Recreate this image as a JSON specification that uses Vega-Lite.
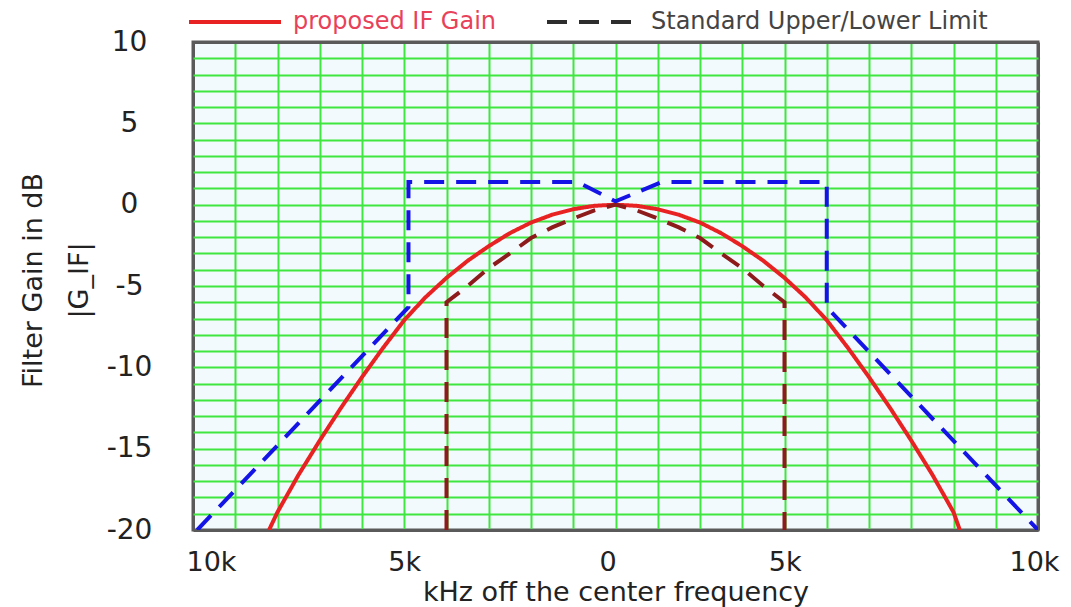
{
  "$schema": "https://vega.github.io/schema/vega-lite/v6.json",
  "width": 845,
  "height": 488,
  "autosize": {"type": "none"},
  "padding": {"left": 193, "top": 42, "right": 33, "bottom": 77},
  "background": "#ffffff",
  "config": {
    "view": {"fill": "#f3fafd", "stroke": "#5a5a5a", "strokeWidth": 3},
    "font": "DejaVu Sans"
  },
  "data": {
    "values": [
      {"series": "proposed", "group": "proposed IF Gain", "i": 0, "khz": -8.2, "db": -20},
      {"series": "proposed", "group": "proposed IF Gain", "i": 1, "khz": -8, "db": -18.9},
      {"series": "proposed", "group": "proposed IF Gain", "i": 2, "khz": -7.5, "db": -16.6},
      {"series": "proposed", "group": "proposed IF Gain", "i": 3, "khz": -7, "db": -14.5},
      {"series": "proposed", "group": "proposed IF Gain", "i": 4, "khz": -6.5, "db": -12.5},
      {"series": "proposed", "group": "proposed IF Gain", "i": 5, "khz": -6, "db": -10.6},
      {"series": "proposed", "group": "proposed IF Gain", "i": 6, "khz": -5.5, "db": -8.8},
      {"series": "proposed", "group": "proposed IF Gain", "i": 7, "khz": -5, "db": -7.1},
      {"series": "proposed", "group": "proposed IF Gain", "i": 8, "khz": -4.5, "db": -5.7},
      {"series": "proposed", "group": "proposed IF Gain", "i": 9, "khz": -4, "db": -4.5},
      {"series": "proposed", "group": "proposed IF Gain", "i": 10, "khz": -3.5, "db": -3.45},
      {"series": "proposed", "group": "proposed IF Gain", "i": 11, "khz": -3, "db": -2.55},
      {"series": "proposed", "group": "proposed IF Gain", "i": 12, "khz": -2.5, "db": -1.75},
      {"series": "proposed", "group": "proposed IF Gain", "i": 13, "khz": -2, "db": -1.1},
      {"series": "proposed", "group": "proposed IF Gain", "i": 14, "khz": -1.5, "db": -0.62},
      {"series": "proposed", "group": "proposed IF Gain", "i": 15, "khz": -1, "db": -0.28},
      {"series": "proposed", "group": "proposed IF Gain", "i": 16, "khz": -0.5, "db": -0.07},
      {"series": "proposed", "group": "proposed IF Gain", "i": 17, "khz": 0, "db": 0},
      {"series": "proposed", "group": "proposed IF Gain", "i": 18, "khz": 0.5, "db": -0.07},
      {"series": "proposed", "group": "proposed IF Gain", "i": 19, "khz": 1, "db": -0.28},
      {"series": "proposed", "group": "proposed IF Gain", "i": 20, "khz": 1.5, "db": -0.62},
      {"series": "proposed", "group": "proposed IF Gain", "i": 21, "khz": 2, "db": -1.1},
      {"series": "proposed", "group": "proposed IF Gain", "i": 22, "khz": 2.5, "db": -1.75},
      {"series": "proposed", "group": "proposed IF Gain", "i": 23, "khz": 3, "db": -2.55},
      {"series": "proposed", "group": "proposed IF Gain", "i": 24, "khz": 3.5, "db": -3.45},
      {"series": "proposed", "group": "proposed IF Gain", "i": 25, "khz": 4, "db": -4.5},
      {"series": "proposed", "group": "proposed IF Gain", "i": 26, "khz": 4.5, "db": -5.7},
      {"series": "proposed", "group": "proposed IF Gain", "i": 27, "khz": 5, "db": -7.1},
      {"series": "proposed", "group": "proposed IF Gain", "i": 28, "khz": 5.5, "db": -8.8},
      {"series": "proposed", "group": "proposed IF Gain", "i": 29, "khz": 6, "db": -10.6},
      {"series": "proposed", "group": "proposed IF Gain", "i": 30, "khz": 6.5, "db": -12.5},
      {"series": "proposed", "group": "proposed IF Gain", "i": 31, "khz": 7, "db": -14.5},
      {"series": "proposed", "group": "proposed IF Gain", "i": 32, "khz": 7.5, "db": -16.6},
      {"series": "proposed", "group": "proposed IF Gain", "i": 33, "khz": 8, "db": -18.9},
      {"series": "proposed", "group": "proposed IF Gain", "i": 34, "khz": 8.15, "db": -20},
      {"series": "lower", "group": "Standard Upper/Lower Limit", "i": 0, "khz": -4, "db": -20},
      {"series": "lower", "group": "Standard Upper/Lower Limit", "i": 1, "khz": -4, "db": -6},
      {"series": "lower", "group": "Standard Upper/Lower Limit", "i": 2, "khz": -3.5, "db": -5},
      {"series": "lower", "group": "Standard Upper/Lower Limit", "i": 3, "khz": -3, "db": -3.9},
      {"series": "lower", "group": "Standard Upper/Lower Limit", "i": 4, "khz": -2.5, "db": -3},
      {"series": "lower", "group": "Standard Upper/Lower Limit", "i": 5, "khz": -2, "db": -2.05},
      {"series": "lower", "group": "Standard Upper/Lower Limit", "i": 6, "khz": -1.5, "db": -1.4},
      {"series": "lower", "group": "Standard Upper/Lower Limit", "i": 7, "khz": -1, "db": -0.85},
      {"series": "lower", "group": "Standard Upper/Lower Limit", "i": 8, "khz": -0.5, "db": -0.35},
      {"series": "lower", "group": "Standard Upper/Lower Limit", "i": 9, "khz": 0, "db": 0},
      {"series": "lower", "group": "Standard Upper/Lower Limit", "i": 10, "khz": 0.5, "db": -0.35},
      {"series": "lower", "group": "Standard Upper/Lower Limit", "i": 11, "khz": 1, "db": -0.85},
      {"series": "lower", "group": "Standard Upper/Lower Limit", "i": 12, "khz": 1.5, "db": -1.4},
      {"series": "lower", "group": "Standard Upper/Lower Limit", "i": 13, "khz": 2, "db": -2.05},
      {"series": "lower", "group": "Standard Upper/Lower Limit", "i": 14, "khz": 2.5, "db": -3},
      {"series": "lower", "group": "Standard Upper/Lower Limit", "i": 15, "khz": 3, "db": -3.9},
      {"series": "lower", "group": "Standard Upper/Lower Limit", "i": 16, "khz": 3.5, "db": -5},
      {"series": "lower", "group": "Standard Upper/Lower Limit", "i": 17, "khz": 4, "db": -6},
      {"series": "lower", "group": "Standard Upper/Lower Limit", "i": 18, "khz": 4, "db": -20},
      {"series": "upper", "group": "Standard Upper/Lower Limit", "i": 0, "khz": -9.9, "db": -20},
      {"series": "upper", "group": "Standard Upper/Lower Limit", "i": 1, "khz": -4.9, "db": -6.3},
      {"series": "upper", "group": "Standard Upper/Lower Limit", "i": 2, "khz": -4.9, "db": 1.4},
      {"series": "upper", "group": "Standard Upper/Lower Limit", "i": 3, "khz": -0.9, "db": 1.4},
      {"series": "upper", "group": "Standard Upper/Lower Limit", "i": 4, "khz": 0, "db": 0.2},
      {"series": "upper", "group": "Standard Upper/Lower Limit", "i": 5, "khz": 1.1, "db": 1.4},
      {"series": "upper", "group": "Standard Upper/Lower Limit", "i": 6, "khz": 5, "db": 1.4},
      {"series": "upper", "group": "Standard Upper/Lower Limit", "i": 7, "khz": 5, "db": -6.3},
      {"series": "upper", "group": "Standard Upper/Lower Limit", "i": 8, "khz": 10, "db": -20}
    ]
  },
  "mark": {"type": "line", "strokeWidth": 4, "clip": true},
  "encoding": {
    "x": {
      "field": "khz",
      "type": "quantitative",
      "scale": {"domain": [-10, 10], "nice": false, "zero": false},
      "axis": {
        "title": "kHz off the center frequency",
        "values": [-10, -9, -8, -7, -6, -5, -4, -3, -2, -1, 0, 1, 2, 3, 4, 5, 6, 7, 8, 9, 10],
        "labelExpr": "datum.value == 0 ? '0' : (datum.value % 5 == 0 ? abs(datum.value) + 'k' : '')",
        "labelFont": "DejaVu Sans",
        "labelFontSize": 27,
        "labelColor": "#222222",
        "labelPadding": 19,
        "labelOverlap": false,
        "labelFlush": false,
        "labelOffset": {
          "condition": [
            {"test": "datum.value == -10", "value": 18},
            {"test": "datum.value == 0", "value": -8},
            {"test": "datum.value == 5", "value": -42},
            {"test": "datum.value == 10", "value": -4}
          ],
          "value": 0
        },
        "ticks": false,
        "tickSize": 0,
        "domain": false,
        "grid": true,
        "gridColor": {"condition": {"test": "abs(datum.value) == 10", "value": "#5a5a5a"}, "value": "#3fe63f"},
        "gridWidth": {"condition": {"test": "abs(datum.value) == 10", "value": 3}, "value": 2},
        "titleFont": "DejaVu Sans",
        "titleFontSize": 27,
        "titleFontWeight": "normal",
        "titleColor": "#222222",
        "titleBaseline": "alphabetic",
        "titleY": 70
      }
    },
    "y": {
      "field": "db",
      "type": "quantitative",
      "scale": {"domain": [-20, 10], "nice": false, "zero": false},
      "axis": {
        "title": ["Filter Gain in dB", "|G_IF|"],
        "values": [-20, -19, -18, -17, -16, -15, -14, -13, -12, -11, -10, -9, -8, -7, -6, -5, -4, -3, -2, -1, 0, 1, 2, 3, 4, 5, 6, 7, 8, 9, 10],
        "labelExpr": "datum.value % 5 == 0 ? '' + datum.value : ''",
        "labelFont": "DejaVu Sans",
        "labelFontSize": 28,
        "labelColor": "#222222",
        "labelAlign": "center",
        "labelBaseline": "middle",
        "labelPadding": 64,
        "labelOverlap": false,
        "ticks": false,
        "tickSize": 0,
        "domain": false,
        "grid": true,
        "gridColor": {"condition": {"test": "datum.value == 10 || datum.value == -20", "value": "#5a5a5a"}, "value": "#3fe63f"},
        "gridWidth": {"condition": {"test": "datum.value == 10 || datum.value == -20", "value": 3}, "value": 2},
        "titleFont": "DejaVu Sans",
        "titleFontSize": 27,
        "titleFontWeight": "normal",
        "titleColor": "#222222",
        "titleAngle": 270,
        "titleAlign": "center",
        "titleBaseline": "alphabetic",
        "titleLineHeight": 46,
        "titleX": -152,
        "titleY": 238
      }
    },
    "color": {
      "field": "series",
      "type": "nominal",
      "scale": {"domain": ["proposed", "lower", "upper"], "range": ["#e82222", "#8e1b1b", "#1414e6"]},
      "legend": null
    },
    "strokeDash": {
      "field": "group",
      "type": "nominal",
      "scale": {"domain": ["proposed IF Gain", "Standard Upper/Lower Limit"], "range": [[1, 0], [20, 12]]},
      "legend": {
        "title": null,
        "orient": "none",
        "legendX": -6,
        "legendY": -33,
        "direction": "horizontal",
        "symbolType": "stroke",
        "symbolSize": 8464,
        "symbolStrokeWidth": 4,
        "clipHeight": 26,
        "labelFont": "DejaVu Sans",
        "labelFontSize": 24,
        "labelOffset": 10,
        "labelLimit": 0,
        "columnPadding": 48,
        "padding": 0,
        "encode": {
          "symbols": {
            "update": {
              "stroke": {"signal": "datum.value == 'proposed IF Gain' ? '#e82222' : '#2d2d2d'"}
            }
          },
          "labels": {
            "update": {
              "fill": {"signal": "datum.value == 'proposed IF Gain' ? '#e8425a' : '#444444'"}
            }
          }
        }
      }
    },
    "order": {"field": "i", "type": "quantitative"}
  }
}
